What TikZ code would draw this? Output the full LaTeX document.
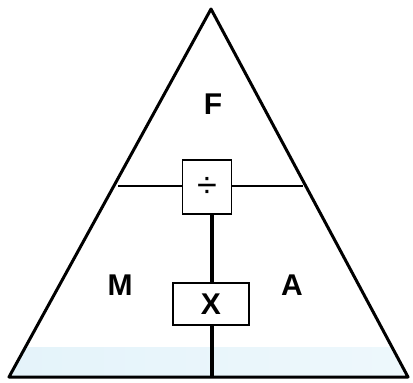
\documentclass[tikz,border=0pt]{standalone}
\usepackage{fontspec}
\setmainfont{Liberation Sans}
\usetikzlibrary{positioning, calc}
\definecolor{bandblue}{RGB}{228,243,250}
\definecolor{bandpale}{RGB}{238,248,252}
\tikzset{
  opbox/.style={draw, line width=1.5pt, fill=white, inner sep=0pt},
  letter/.style={font=\fontsize{30}{30}\selectfont\bfseries, inner sep=0pt},
}

\begin{document}
\begin{tikzpicture}[x=1pt, y=-1pt]
    \useasboundingbox (0,0) rectangle (413,383);

    % --- Corners of the triangle ---
    \coordinate (top) at (211,9);
    \coordinate (bl) at (9,377);
    \coordinate (br) at (408,377);

    % --- Pale blue band along the base ---
    \begin{scope}
        \clip (top) -- (bl) -- (br) -- cycle;
        \fill[left color=bandblue, right color=bandpale] (0,347) rectangle (413,377);
    \end{scope}

    % --- Outline ---
    \draw[line width=3pt, line join=round] (top) -- (bl) -- (br) -- cycle;

    % --- Divide box and the line through it ---
    \node[opbox, minimum width=49pt, minimum height=54pt] (div) at (207,187)
        {\fontsize{36}{36}\selectfont ÷};
    \coordinate (ml) at (118,186);
    \coordinate (mr) at (303,186);
    \draw[line width=1.8pt] (ml) -- (ml -| div.west);
    \draw[line width=1.8pt] (mr -| div.east) -- (mr);

    % --- Vertical stem down to the base ---
    \coordinate (foot) at (212,377);
    \draw[line width=4pt] (div.south -| foot) -- (foot);

    % --- Multiply box ---
    \node[opbox, minimum width=76pt, minimum height=42pt] (mul) at (211,304) {};
    \node[letter] (x) at (mul.center) {X};

    % --- Letters ---
    \node[letter] (f) at (213,104) {F};
    \node[letter] (m) at (120,285) {M};
    \node[letter] (a) at (292,285) {A};

\end{tikzpicture}
\end{document}
